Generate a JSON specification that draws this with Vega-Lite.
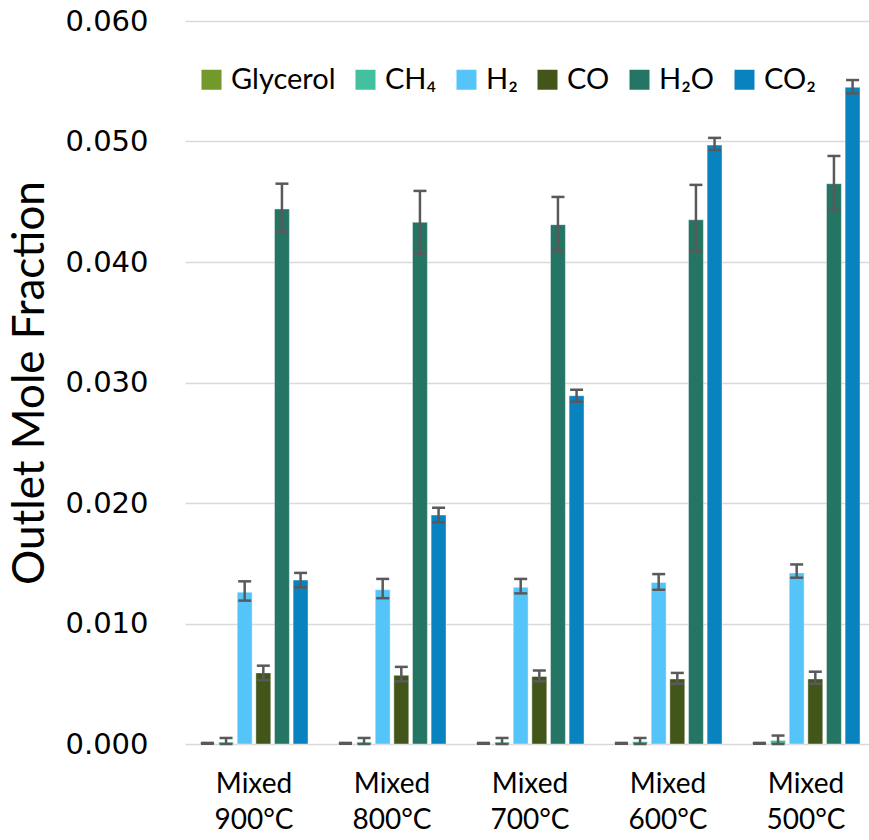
{
  "$schema": "https://vega.github.io/schema/vega-lite/v6.json",
  "width": 684,
  "height": 723,
  "autosize": "none",
  "padding": {"left": 185, "top": 21, "right": 0, "bottom": 96},
  "background": "white",
  "config": {"view": {"stroke": null}, "font": "Lato"},
  "data": {
    "values": [
      {"cond": "Mixed 900°C", "species": "Glycerol", "value": 0.00005, "lo": 0.00002, "hi": 0.00009},
      {"cond": "Mixed 900°C", "species": "CH₄", "value": 0.00015, "lo": 0.0, "hi": 0.0005},
      {"cond": "Mixed 900°C", "species": "H₂", "value": 0.0126, "lo": 0.0119, "hi": 0.0135},
      {"cond": "Mixed 900°C", "species": "CO", "value": 0.0059, "lo": 0.0053, "hi": 0.0065},
      {"cond": "Mixed 900°C", "species": "H₂O", "value": 0.0444, "lo": 0.0425, "hi": 0.0465},
      {"cond": "Mixed 900°C", "species": "CO₂", "value": 0.0136, "lo": 0.0130, "hi": 0.0142},

      {"cond": "Mixed 800°C", "species": "Glycerol", "value": 0.00005, "lo": 0.00002, "hi": 0.00009},
      {"cond": "Mixed 800°C", "species": "CH₄", "value": 0.00015, "lo": 0.0, "hi": 0.0005},
      {"cond": "Mixed 800°C", "species": "H₂", "value": 0.0128, "lo": 0.0121, "hi": 0.0137},
      {"cond": "Mixed 800°C", "species": "CO", "value": 0.0057, "lo": 0.0052, "hi": 0.0064},
      {"cond": "Mixed 800°C", "species": "H₂O", "value": 0.0433, "lo": 0.0407, "hi": 0.0459},
      {"cond": "Mixed 800°C", "species": "CO₂", "value": 0.0190, "lo": 0.0184, "hi": 0.0196},

      {"cond": "Mixed 700°C", "species": "Glycerol", "value": 0.00005, "lo": 0.00002, "hi": 0.00009},
      {"cond": "Mixed 700°C", "species": "CH₄", "value": 0.00015, "lo": 0.0, "hi": 0.0005},
      {"cond": "Mixed 700°C", "species": "H₂", "value": 0.0130, "lo": 0.0125, "hi": 0.0137},
      {"cond": "Mixed 700°C", "species": "CO", "value": 0.0056, "lo": 0.0052, "hi": 0.0061},
      {"cond": "Mixed 700°C", "species": "H₂O", "value": 0.0431, "lo": 0.0409, "hi": 0.0454},
      {"cond": "Mixed 700°C", "species": "CO₂", "value": 0.0289, "lo": 0.0284, "hi": 0.0294},

      {"cond": "Mixed 600°C", "species": "Glycerol", "value": 0.00005, "lo": 0.00002, "hi": 0.00009},
      {"cond": "Mixed 600°C", "species": "CH₄", "value": 0.0002, "lo": 0.0, "hi": 0.0005},
      {"cond": "Mixed 600°C", "species": "H₂", "value": 0.0134, "lo": 0.0128, "hi": 0.0141},
      {"cond": "Mixed 600°C", "species": "CO", "value": 0.0054, "lo": 0.0050, "hi": 0.0059},
      {"cond": "Mixed 600°C", "species": "H₂O", "value": 0.0435, "lo": 0.0409, "hi": 0.0464},
      {"cond": "Mixed 600°C", "species": "CO₂", "value": 0.0497, "lo": 0.0493, "hi": 0.0503},

      {"cond": "Mixed 500°C", "species": "Glycerol", "value": 0.00005, "lo": 0.00002, "hi": 0.00009},
      {"cond": "Mixed 500°C", "species": "CH₄", "value": 0.0003, "lo": 0.0, "hi": 0.0007},
      {"cond": "Mixed 500°C", "species": "H₂", "value": 0.0142, "lo": 0.0138, "hi": 0.0149},
      {"cond": "Mixed 500°C", "species": "CO", "value": 0.0054, "lo": 0.0050, "hi": 0.0060},
      {"cond": "Mixed 500°C", "species": "H₂O", "value": 0.0465, "lo": 0.0443, "hi": 0.0488},
      {"cond": "Mixed 500°C", "species": "CO₂", "value": 0.0545, "lo": 0.0540, "hi": 0.0551}
    ]
  },
  "encoding": {
    "x": {
      "field": "cond",
      "type": "nominal",
      "sort": ["Mixed 900°C", "Mixed 800°C", "Mixed 700°C", "Mixed 600°C", "Mixed 500°C"],
      "scale": {"range": [0, 690], "paddingInner": 0.19, "paddingOuter": 0.095},
      "axis": {
        "title": null,
        "labelExpr": "split(datum.label, ' ')",
        "labelAngle": 0,
        "labelFont": "Lato",
        "labelFontSize": 28,
        "labelLineHeight": 36,
        "labelColor": "#000000",
        "labelPadding": 26,
        "ticks": false,
        "domain": false,
        "grid": false
      }
    },
    "xOffset": {
      "field": "species",
      "type": "nominal",
      "sort": ["Glycerol", "CH₄", "H₂", "CO", "H₂O", "CO₂"],
      "scale": {"paddingInner": 0.2, "paddingOuter": 0.1}
    }
  },
  "layer": [
    {
      "mark": {"type": "bar", "stroke": "#ffffff", "strokeWidth": 0.8, "strokeOpacity": 0.5},
      "encoding": {
        "y": {
          "field": "value",
          "type": "quantitative",
          "title": "Outlet Mole Fraction",
          "scale": {"domain": [0, 0.06]},
          "axis": {
            "values": [0, 0.01, 0.02, 0.03, 0.04, 0.05, 0.06],
            "format": ".3f",
            "labelFont": "DejaVu Sans",
            "labelFontSize": 29,
            "labelColor": "#000000",
            "labelPadding": 37,
            "ticks": false,
            "domain": false,
            "gridColor": "#D9D9D9",
            "gridWidth": 1.5,
            "titleFont": "Lato",
            "titleFontSize": 44,
            "titleFontWeight": "normal",
            "titleColor": "#000000",
            "titlePadding": 12
          }
        },
        "color": {
          "field": "species",
          "type": "nominal",
          "sort": ["Glycerol", "CH₄", "H₂", "CO", "H₂O", "CO₂"],
          "scale": {
            "domain": ["Glycerol", "CH₄", "H₂", "CO", "H₂O", "CO₂"],
            "range": ["#73992B", "#43C0A0", "#55C4F8", "#43561A", "#257565", "#0983C0"]
          },
          "legend": {
            "title": null,
            "orient": "none",
            "legendX": 12,
            "legendY": 44,
            "direction": "horizontal",
            "columns": 6,
            "columnPadding": 15,
            "padding": 0,
            "symbolType": "square",
            "symbolSize": 400,
            "symbolStrokeWidth": 0,
            "labelFont": "Lato",
            "labelFontSize": 29,
            "labelColor": "#000000",
            "labelOffset": 5,
            "labelLimit": 0
          }
        }
      }
    },
    {
      "mark": {"type": "rule", "color": "#595959", "strokeWidth": 2.5},
      "encoding": {
        "y": {"field": "lo", "type": "quantitative", "title": "Outlet Mole Fraction"},
        "y2": {"field": "hi"}
      }
    },
    {
      "mark": {"type": "tick", "color": "#595959", "thickness": 2.5, "size": 13, "opacity": 1},
      "encoding": {
        "y": {"field": "hi", "type": "quantitative", "title": "Outlet Mole Fraction"}
      }
    },
    {
      "mark": {"type": "tick", "color": "#595959", "thickness": 2.5, "size": 13, "opacity": 1},
      "encoding": {
        "y": {"field": "lo", "type": "quantitative", "title": "Outlet Mole Fraction"}
      }
    }
  ]
}
